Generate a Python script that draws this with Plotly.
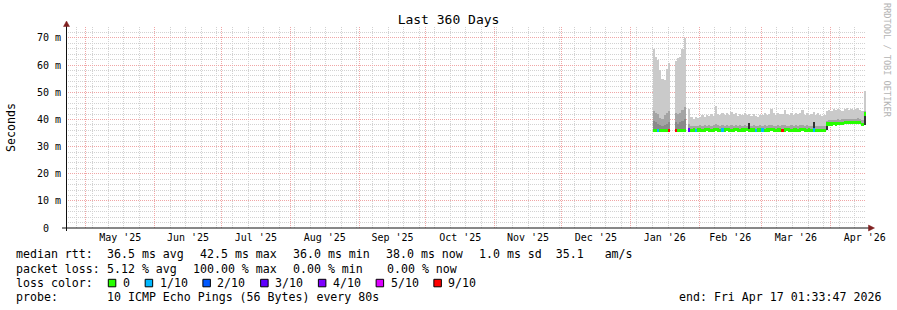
import pandas as pd
import plotly.graph_objects as go

# ---------------- data ----------------
x_start = "2025-04-22 01:33:47"
x_end = "2026-04-17 01:33:47"

# contiguous blocks of daily data (first day, last day)
block_ranges = [("2026-01-11", "2026-01-18"),
                ("2026-01-21", "2026-01-25"),
                ("2026-01-27", "2026-04-16")]

# outer smoke top (ms)
rtt_max = [
    # Jan 11-18
    66.0, 63.0, 62.0, 58.2, 55.0, 54.5, 58.5, 60.7,
    # Jan 21-25
    61.5, 62.5, 63.0, 66.0, 70.0,
    # Jan 27-31
    44.0, 40.8, 40.2, 41.0, 40.5,
    # Feb
    41.0, 41.5, 40.8, 41.6, 41.2, 42.0, 41.4, 45.0, 42.0, 41.8, 42.4, 41.6, 42.2, 41.5,
    42.6, 41.9, 42.3, 41.4, 42.1, 41.6, 42.5, 41.8, 42.0, 41.3, 41.9, 41.4, 41.0, 41.6,
    # Mar
    41.8, 42.3, 41.5, 42.0, 44.0, 42.2, 41.7, 42.4, 41.9, 42.1, 43.5, 42.0, 41.6, 42.3, 41.8,
    42.5, 41.9, 42.2, 43.6, 41.8, 42.4, 41.5, 42.0, 42.6, 41.7, 42.3, 41.6, 41.2, 41.8, 43.0, 43.6,
    # Apr 1-16
    43.2, 43.8, 43.4, 44.0, 43.5, 43.1, 43.9, 44.2, 43.6, 44.0, 43.3, 43.8, 44.3, 43.4, 43.0, 50.5,
]

# second smoke layer top (ms)
rtt_p2 = [
    43.0, 42.5, 42.0, 40.5, 40.0, 41.5, 42.5, 43.0,
    42.5, 42.0, 42.5, 43.5, 44.5,
    38.5, 37.6, 37.5, 37.7, 37.6,
    37.8, 37.6, 37.9, 37.7, 37.8, 37.6, 37.9, 38.2, 37.8, 37.7, 37.9, 37.6, 37.8, 37.7,
    37.9, 37.6, 37.8, 37.7, 37.9, 37.6, 37.8, 37.7, 37.9, 37.6, 37.8, 37.7, 37.6, 37.8,
    37.7, 37.9, 37.6, 37.8, 38.0, 37.7, 37.6, 37.9, 37.7, 37.8, 38.0, 37.7, 37.6, 37.8, 37.7,
    37.9, 37.6, 37.8, 38.0, 37.7, 37.8, 37.6, 37.7, 37.9, 37.5, 37.4, 37.5, 37.6, 37.6, 39.6, 39.8,
    39.7, 39.9, 39.8, 40.0, 39.9, 40.1, 40.2, 40.3, 40.2, 40.1, 40.3, 40.2, 40.4, 40.2, 39.8, 43.0,
]

# third (inner) smoke layer top (ms); not visible in the last block
rtt_p3 = [39.5, 39.0, 38.5, 38.0, 37.5, 38.0, 38.5, 39.0,
          39.0, 38.5, 39.0, 39.5, 40.0] + [None] * 80

# median rtt (ms)
rtt_median = [
    36.0, 36.0, 36.0, 36.0, 36.0, 36.0, 36.0, 36.0,
    36.0, 36.0, 36.0, 36.0, 36.0,
    36.1, 36.0, 36.1, 36.0, 36.1,
    36.1, 36.0, 36.1, 36.2, 36.1, 36.0, 36.1, 36.2, 36.1, 36.0, 36.1, 36.1, 36.2, 36.1,
    36.0, 36.1, 36.2, 36.1, 36.0, 36.1, 36.1, 36.2, 36.0, 36.1, 36.1, 36.0, 36.1, 36.1,
    36.1, 36.0, 36.1, 36.1, 36.2, 36.1, 36.0, 36.1, 36.1, 36.0, 36.1, 36.2, 36.1, 36.0, 36.1,
    36.1, 36.0, 36.1, 36.2, 36.1, 36.0, 36.1, 36.0, 36.1, 35.9, 35.8, 35.9, 36.0, 36.0, 38.3, 38.3,
    38.3, 38.4, 38.3, 38.4, 38.4, 38.5, 38.8, 38.9, 38.9, 38.8, 38.9, 38.9, 39.0, 38.9, 38.2, 42.0,
]

# lost pings out of 10
loss_count = [0] * 93
loss_events = {"2026-01-13": 1, "2026-01-18": 10, "2026-01-21": 10, "2026-01-27": 3,
               "2026-01-30": 1, "2026-02-11": 1, "2026-02-26": 1, "2026-03-01": 1,
               "2026-03-10": 10, "2026-03-24": 1}

# darkest smoke (innermost pings) spikes
dark_dates = ["2026-02-23", "2026-03-24", "2026-03-30", "2026-04-16"]
dark_low = [35.5, 36.0, 36.0, 38.0]
dark_high = [38.7, 39.0, 38.6, 42.3]

loss_levels = [0, 1, 2, 3, 4, 5, 9]
loss_labels = ["0", "1/10", "2/10", "3/10", "4/10", "5/10", "9/10"]
loss_colors = ["#26ff00", "#00b8ff", "#0059ff", "#5e00ff", "#7e00ff", "#dd00ff", "#ff0000"]

y_tick_vals = [0, 10, 20, 30, 40, 50, 60, 70]
y_tick_text = ["0  ", "10 m", "20 m", "30 m", "40 m", "50 m", "60 m", "70 m"]
y_top = 74.05

title_text = "Last 360 Days"
y_title = "Seconds"
stats_line1 = [("median rtt:", 16), ("36.5 ms avg", 107.3), ("42.5 ms max", 200.0),
               ("36.0 ms min", 293.3), ("38.0 ms now", 386.0),
               ("1.0 ms sd  35.1   am/s", 478.5)]
stats_line2 = [("packet loss:", 16), ("5.12 % avg", 107.3), ("100.00 % max", 193.3),
               ("0.00 % min", 293.3), ("0.00 % now", 386.7)]
probe_label = "probe:"
probe_text = "10 ICMP Echo Pings (56 Bytes) every 80s"
end_text = "end: Fri Apr 17 01:33:47 2026"
watermark = "RRDTOOL / TOBI OETIKER"

# ---------------- styling ----------------
FONT = "DejaVu Sans Mono"
W, H = 897, 310
L, R, T, B = 66, 866, 27, 228
DAY = 86400000
GRID = "#d2d2d2"
MGRID = "#f0a6a6"
ARROW = "#802020"


def px(xp):
    return (xp - L) / (R - L)


def py(yp):
    return (B - yp) / (B - T)


def nb(s):
    return s.replace(" ", "\u00a0")


days = []
for a, b in block_ranges:
    days += list(pd.date_range(a, b, freq="D"))
day_keys = [d.strftime("%Y-%m-%d") for d in days]
for k, v in loss_events.items():
    loss_count[day_keys.index(k)] = v


def loss_color(n):
    c = loss_colors[0]
    for lv, col in zip(loss_levels, loss_colors):
        if n >= lv:
            c = col
    return c


fig = go.Figure()


def smoke(top, color):
    fig.add_trace(go.Bar(
        x=days, base=rtt_median,
        y=[None if t is None else t - m for t, m in zip(top, rtt_median)],
        width=DAY, offset=0, marker=dict(color=color, line=dict(width=0)),
        hoverinfo="skip", showlegend=False))


smoke(rtt_max, "#cacaca")
smoke(rtt_p2, "#a4a4a4")
smoke(rtt_p3, "#8a8a8a")

fig.add_trace(go.Bar(
    x=pd.to_datetime(dark_dates), base=dark_low,
    y=[h - l for h, l in zip(dark_high, dark_low)],
    width=DAY, offset=0, marker=dict(color="#323232", line=dict(width=0)),
    hoverinfo="skip", showlegend=False))

half = 0.6
fig.add_trace(go.Bar(
    x=days, base=[m - half for m in rtt_median], y=[2 * half] * len(days),
    width=DAY, offset=0,
    marker=dict(color=[loss_color(n) for n in loss_count], line=dict(width=0)),
    hoverinfo="skip", showlegend=False))

dash = "1px,1px"
fig.update_layout(
    width=W, height=H, autosize=False,
    margin=dict(l=L, r=W - R, t=T, b=H - B, pad=0),
    paper_bgcolor="white", plot_bgcolor="white",
    barmode="overlay", bargap=0,
    showlegend=False,
    font=dict(family=FONT, color="black"),
    title=dict(text=title_text, x=0.5, xref="container", xanchor="center",
               y=1 - 19 / H, yref="container", yanchor="middle",
               font=dict(family=FONT, size=13, color="black")),
    xaxis=dict(type="date", range=[x_start, x_end], dtick="M1", tick0="2025-05-01",
               ticklabelmode="period", tickformat="%b '%y",
               showgrid=True, gridcolor=MGRID, griddash=dash, gridwidth=1,
               minor=dict(dtick=7 * DAY, tick0="2025-04-27", showgrid=True,
                          gridcolor=GRID, griddash=dash, gridwidth=1),
               showline=False, zeroline=False, ticks="", ticklabelstandoff=2,
               tickfont=dict(family=FONT, size=10, color="black"), fixedrange=True),
    yaxis=dict(range=[0, y_top], tickmode="array", tickvals=y_tick_vals,
               ticktext=[nb(t) for t in y_tick_text],
               showgrid=True, gridcolor=MGRID, griddash=dash, gridwidth=1,
               minor=dict(tickmode="linear", tick0=0, dtick=2, showgrid=True,
                          gridcolor=GRID, griddash=dash, gridwidth=1),
               showline=False, zeroline=False, ticks="", ticklabelstandoff=4,
               tickfont=dict(family=FONT, size=10, color="black"), fixedrange=True),
)

shapes = []
# axes lines
shapes.append(dict(type="line", xref="paper", yref="paper", x0=px(62), x1=px(870),
                   y0=py(228), y1=py(228), line=dict(color="#101010", width=1)))
shapes.append(dict(type="line", xref="paper", yref="paper", x0=px(66.5), x1=px(66.5),
                   y0=py(231), y1=py(24), line=dict(color="#101010", width=1)))
# arrows
shapes.append(dict(type="path", xref="paper", yref="paper",
                   path=f"M {px(63.5)} {py(26.5)} L {px(66.5)} {py(21.0)} L {px(69.5)} {py(26.5)} Z",
                   fillcolor=ARROW, line=dict(color=ARROW, width=0.5)))
shapes.append(dict(type="path", xref="paper", yref="paper",
                   path=f"M {px(868.5)} {py(225.0)} L {px(874.5)} {py(228.0)} L {px(868.5)} {py(231.0)} Z",
                   fillcolor=ARROW, line=dict(color=ARROW, width=0.5)))

annotations = []


def text(s, xp, yp, size=11.6, xanchor="left", color="black", angle=0):
    annotations.append(dict(text=nb(s), x=px(xp), y=py(yp), xref="paper", yref="paper",
                            xanchor=xanchor, yanchor="middle", showarrow=False,
                            textangle=angle, borderpad=0, borderwidth=0,
                            font=dict(family=FONT, size=size, color=color)))


text(y_title, 11, 127, xanchor="center", angle=-90)
text(watermark, 887, 60, size=8.6, xanchor="center", color="#b4b4b4", angle=90)

y1, y2, y3, y4 = 254, 268.5, 283, 297
for s, xp in stats_line1:
    text(s, xp, y1)
for s, xp in stats_line2:
    text(s, xp, y2)
text("loss color:", 16, y3)
cursor = 108.3
for lab, col in zip(loss_labels, loss_colors):
    shapes.append(dict(type="rect", xref="paper", yref="paper",
                       x0=px(cursor), x1=px(cursor + 7.5), y0=py(286.8), y1=py(279.3),
                       fillcolor=col, line=dict(color="black", width=1)))
    lx = cursor + 14.4
    text(lab, lx, y3)
    cursor = lx + len(lab) * 6.96 + 15.5
text(probe_label, 16, y4)
text(probe_text, 107.3, y4)
text(end_text, 880.5, y4, xanchor="right")

fig.update_layout(shapes=shapes, annotations=annotations)
fig.write_html("out.html", config={"displayModeBar": False})
